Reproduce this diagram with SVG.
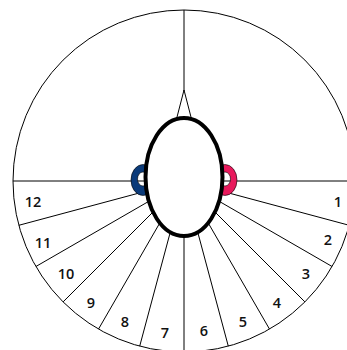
<svg xmlns="http://www.w3.org/2000/svg" width="347" height="350" viewBox="0 0 347 350">
<style>
.ln{stroke:#000;stroke-width:1;fill:none}
.lb{font-family:"Open Sans","Liberation Sans",Arial,sans-serif;font-size:14.5px;font-weight:600;fill:#111;text-anchor:middle;dominant-baseline:central}
</style>
<rect width="347" height="350" fill="#fff"/>
<g id="outer-circle"><circle cx="184" cy="181" r="171" fill="#fff" stroke="#000" stroke-width="1"/></g>
<g id="connectors" class="ln">
<line x1="184" y1="10" x2="184" y2="91"/>
<line x1="184" y1="181" x2="355" y2="181"/>
<line x1="184" y1="181" x2="349.2" y2="225.3"/>
<line x1="184" y1="181" x2="332.1" y2="266.5"/>
<line x1="184" y1="181" x2="304.9" y2="301.9"/>
<line x1="184" y1="181" x2="269.5" y2="329.1"/>
<line x1="184" y1="181" x2="228.3" y2="346.2"/>
<line x1="184" y1="181" x2="184" y2="352"/>
<line x1="184" y1="181" x2="139.7" y2="346.2"/>
<line x1="184" y1="181" x2="98.5" y2="329.1"/>
<line x1="184" y1="181" x2="63.1" y2="301.9"/>
<line x1="184" y1="181" x2="35.9" y2="266.5"/>
<line x1="184" y1="181" x2="18.8" y2="225.3"/>
<line x1="184" y1="181" x2="13" y2="181"/>
</g>
<g id="left-ear"><path fill="#0b3b7a" fill-rule="evenodd" stroke="#000" stroke-width="0.6" d="M131,180a12,15.5 0 1,0 24,0a12,15.5 0 1,0 -24,0z M137.5,179a5.5,7 0 1,0 11,0a5.5,7 0 1,0 -11,0z"/></g>
<g id="right-ear"><path fill="#e8195c" fill-rule="evenodd" stroke="#000" stroke-width="0.6" d="M213,180a12,15.5 0 1,0 24,0a12,15.5 0 1,0 -24,0z M219.5,179a5.5,7 0 1,0 11,0a5.5,7 0 1,0 -11,0z"/></g>
<g id="nose"><polygon points="184,90 176.5,119 191.5,119" fill="#fff" stroke="#000" stroke-width="1"/></g>
<g id="head"><ellipse cx="184" cy="177" rx="38.5" ry="59" fill="#fff" stroke="#000" stroke-width="4"/></g>
<g id="labels">
<text class="lb" x="338" y="201">1</text>
<text class="lb" x="328" y="239">2</text>
<text class="lb" x="306" y="273">3</text>
<text class="lb" x="277" y="302">4</text>
<text class="lb" x="243" y="321">5</text>
<text class="lb" x="204" y="330">6</text>
<text class="lb" x="165" y="332">7</text>
<text class="lb" x="125" y="321">8</text>
<text class="lb" x="91" y="302">9</text>
<text class="lb" x="66" y="273">10</text>
<text class="lb" x="43" y="242">11</text>
<text class="lb" x="33" y="201">12</text>
</g>
</svg>
